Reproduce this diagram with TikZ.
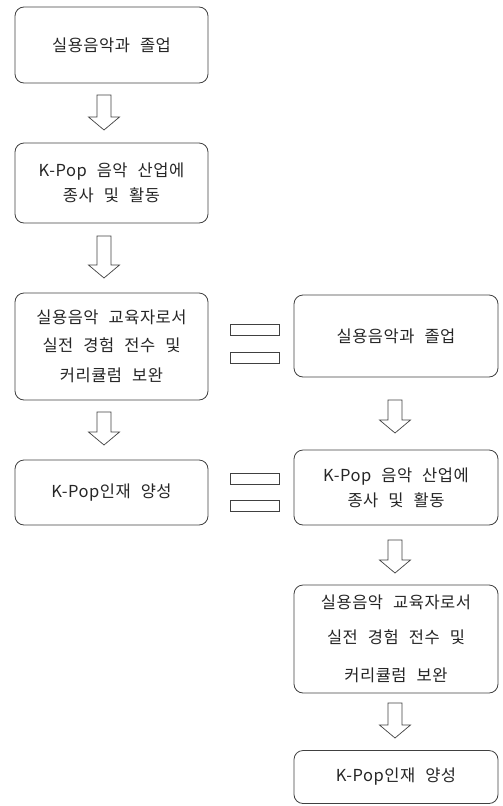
\documentclass[tikz,border=0pt]{standalone}
\usepackage{fontspec}
\setmainfont{Noto Sans CJK KR}[WordSpace=2.4, LetterSpace=3]
\begin{document}
\begin{tikzpicture}[x=1pt,y=-1pt,
  box/.style={draw=black!75, line width=0.8pt, rounded corners=9pt, align=center,
    inner sep=0pt, text=black!85, font=\fontsize{16.5}{25}\selectfont},
  barbox/.style={draw=black!75, line width=0.7pt, minimum width=49pt, minimum height=11pt, inner sep=0pt},
  barrow/.style={draw=black!75, line width=0.7pt, line join=miter}]
\newcommand\blockarrow[3]{% x, ytop, ybottom
  \draw[barrow] (#1-7,#2) -- (#1+7,#2) -- (#1+7,#3-13) -- (#1+15.5,#3-13) -- (#1,#3)
    -- (#1-15.5,#3-13) -- (#1-7,#3-13) -- cycle;}
\useasboundingbox (0,0) rectangle (503,806);
% left column
\node[box, minimum width=193pt, minimum height=76pt] (L1) at (111.5,45) {실용음악과 졸업};
\node[box, minimum width=193pt, minimum height=80pt] (L2) at (111.5,183) {K-Pop 음악 산업에\\종사 및 활동};
\node[box, minimum width=193pt, minimum height=107pt] (L3) at (111.5,346.5) {실용음악 교육자로서\\[3pt]실전 경험 전수 및\\[5pt]커리큘럼 보완};
\node[box, minimum width=193pt, minimum height=65pt] (L4) at (111.5,492.5) {K-Pop인재 양성};
% right column
\node[box, minimum width=204pt, minimum height=82pt] (R1) at (396,336) {실용음악과 졸업};
\node[box, minimum width=204pt, minimum height=75pt] (R2) at (396,487.5) {K-Pop 음악 산업에\\종사 및 활동};
\node[box, minimum width=204pt, minimum height=108pt] (R3) at (396,639) {실용음악 교육자로서\\[10pt]실전 경험 전수 및\\[13pt]커리큘럼 보완};
\node[box, minimum width=204pt, minimum height=53pt] (R4) at (396,777) {K-Pop인재 양성};
% block arrows
\blockarrow{104}{95}{130}
\blockarrow{104}{236}{278}
\blockarrow{104}{412}{445}
\blockarrow{395}{400}{433}
\blockarrow{395}{540}{573}
\blockarrow{395}{703}{738}
% equals signs
\node[barbox] (E1) at (254.5,330) {};
\node[barbox] (E2) at (254.5,358) {};
\node[barbox] (E3) at (254.5,479) {};
\node[barbox] (E4) at (254.5,506) {};
\end{tikzpicture}
\end{document}
